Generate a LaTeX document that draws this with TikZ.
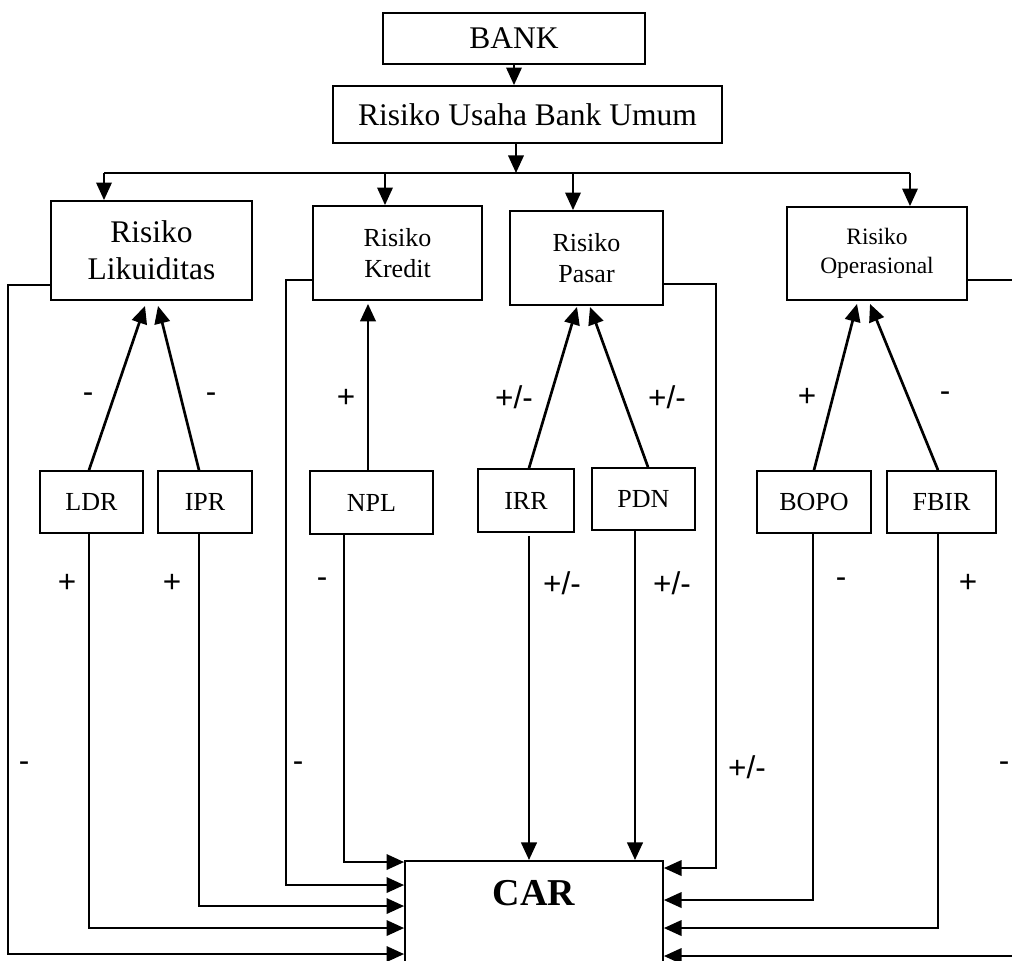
\documentclass[tikz,border=0pt]{standalone}
\usepackage{fontspec}
\setmainfont{Liberation Serif}
\newfontfamily\signfont{Liberation Sans}
\usetikzlibrary{arrows.meta}

\begin{document}
\begin{tikzpicture}[x=0.025cm,y=-0.025cm,
    >={Triangle[length=12.5pt,width=11pt]},
    box/.style 2 args={draw,line width=1.3pt,inner sep=0pt,
        minimum width=#1*0.025cm,minimum height=#2*0.025cm},
    big/.style={font=\fontsize{22.4}{26.3}\selectfont},
    mid/.style={font=\fontsize{18.5}{22}\selectfont},
    small/.style={font=\fontsize{16.7}{20.6}\selectfont},
    sign/.style={font=\signfont\fontsize{22.4}{26}\selectfont,inner sep=0pt}]
  \useasboundingbox (0,0) rectangle (1012,960);

  \node[box={262}{51},big] (bank) at (514,38.5) {BANK};
  \node[box={389}{57},big] (usaha) at (527.5,114.5) {Risiko Usaha Bank Umum};
  \node[box={201}{99},big,align=center] (likuid) at (151.5,250.5) {Risiko\\Likuiditas};
  \node[box={169}{94},mid,align=center] (kredit) at (397.5,253) {Risiko\\Kredit};
  \node[box={153}{94},mid,align=center] (pasar) at (586.5,258) {Risiko\\Pasar};
  \node[box={180}{93},small,align=center] (oper) at (877,253.5) {Risiko\\Operasional};
  \node[box={103}{62},mid] (ldr) at (91.5,502) {LDR};
  \node[box={94}{62},mid] (ipr) at (205,502) {IPR};
  \node[box={123}{63},mid] (npl) at (371.5,502.5) {NPL};
  \node[box={96}{63},mid] (irr) at (526,500.5) {IRR};
  \node[box={103}{62},mid] (pdn) at (643.5,499) {PDN};
  \node[box={114}{62},mid] (bopo) at (814,502) {BOPO};
  \node[box={109}{62},mid] (fbir) at (941.5,502) {FBIR};
  \node[box={258}{119},font=\fontsize{27}{30}\selectfont\bfseries,
        text height=31.7pt,text depth=53pt] (car) at (534,920.5) {CAR};

  % top part
  \coordinate (bus) at (516,173);
  \coordinate (b1) at (104,173);
  \coordinate (b2) at (385,173);
  \coordinate (b3) at (573,173);
  \coordinate (b4) at (910,173);
  \draw[->,line width=1.5pt] (bank.south) -- (bank.south |- usaha.north);
  \draw[->,line width=1.5pt] (usaha.south -| bus) -- (bus);
  \draw[line width=1.5pt] (b1) -- (b4);
  \draw[->,line width=1.5pt] (b1) -- (b1 |- likuid.north);
  \draw[->,line width=1.5pt] (b2) -- (b2 |- kredit.north);
  \draw[->,line width=1.5pt] (b3) -- (b3 |- pasar.north);
  \draw[->,line width=1.5pt] (b4) -- (b4 |- oper.north);

  % ratios up to the risks
  \draw[->,line width=1.9pt] ([shift={(-2.5,0)}]ldr.north) -- ([shift={(-6.5,5)}]likuid.south);
  \draw[->,line width=1.9pt] ([shift={(-6,0)}]ipr.north) -- ([shift={(6.5,5)}]likuid.south);
  \draw[->,line width=1.9pt] ([shift={(-3.5,0)}]npl.north) -- ([shift={(-29.5,3)}]kredit.south);
  \draw[->,line width=1.9pt] ([shift={(3,0)}]irr.north) -- ([shift={(-9.5,1)}]pasar.south);
  \draw[->,line width=1.9pt] ([shift={(4.5,0)}]pdn.north) -- ([shift={(3.5,1)}]pasar.south);
  \draw[->,line width=1.9pt] (bopo.north) -- ([shift={(-20,3)}]oper.south);
  \draw[->,line width=1.9pt] ([shift={(-3.5,0)}]fbir.north) -- ([shift={(-7,3)}]oper.south);

  % everything down to CAR
  \coordinate (irrx) at ([shift={(3,3)}]irr.south);
  \coordinate (pdnx) at ([shift={(-8.5,0)}]pdn.south);
  \draw[->,line width=1.5pt] ([shift={(0,34.5)}]likuid.west) -- ++(-42,0) |- ([shift={(0,94)}]car.north west);
  \draw[->,line width=1.5pt] ([shift={(-2.5,0)}]ldr.south) |- ([shift={(0,68)}]car.north west);
  \draw[->,line width=1.5pt] ([shift={(-6,0)}]ipr.south) |- ([shift={(0,46)}]car.north west);
  \draw[->,line width=1.5pt] ([shift={(0,27)}]kredit.west) -- ++(-26,0) |- ([shift={(0,25)}]car.north west);
  \draw[->,line width=1.5pt] ([shift={(-27.5,0)}]npl.south) |- ([shift={(0,2)}]car.north west);
  \draw[->,line width=1.9pt] (irrx) -- (irrx |- car.north);
  \draw[->,line width=1.9pt] (pdnx) -- (pdnx |- car.north);
  \draw[->,line width=1.5pt] ([shift={(0,26)}]pasar.east) -- ++(52,0) |- ([shift={(0,8)}]car.north east);
  \draw[->,line width=1.5pt] ([shift={(-1,0)}]bopo.south) |- ([shift={(0,40)}]car.north east);
  \draw[->,line width=1.5pt] ([shift={(-3.5,0)}]fbir.south) |- ([shift={(0,68)}]car.north east);
  \draw[->,line width=1.5pt] ([shift={(0,26.5)}]oper.east) -- ++(55,0) |- ([shift={(0,96)}]car.north east);

  % signs
  \node[sign] (s1) at (88,398) {-};
  \node[sign] (s2) at (211,398) {-};
  \node[sign] (s3) at (346,398) {+};
  \node[sign] (s4) at (514,397) {+/-};
  \node[sign] (s5) at (667,397) {+/-};
  \node[sign] (s6) at (807,397) {+};
  \node[sign] (s7) at (945,397) {-};
  \node[sign] (s8) at (67,583) {+};
  \node[sign] (s9) at (172,583) {+};
  \node[sign] (s10) at (322,583) {-};
  \node[sign] (s11) at (562,583) {+/-};
  \node[sign] (s12) at (672,583) {+/-};
  \node[sign] (s13) at (841,583) {-};
  \node[sign] (s14) at (968,583) {+};
  \node[sign] (s15) at (24,767) {-};
  \node[sign] (s16) at (298,767) {-};
  \node[sign] (s17) at (747,767) {+/-};
  \node[sign] (s18) at (1004,767) {-};
\end{tikzpicture}
\end{document}
